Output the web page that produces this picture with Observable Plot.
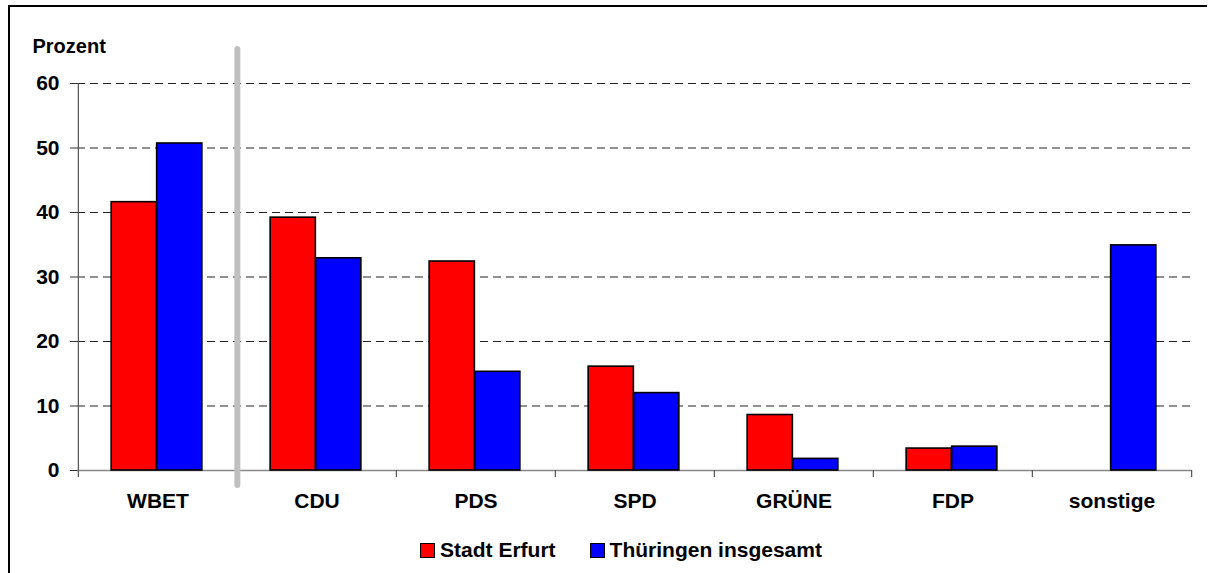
<!DOCTYPE html>
<html>
<head>
<meta charset="utf-8">
<script src="https://cdn.jsdelivr.net/npm/d3@7"></script>
<script src="https://cdn.jsdelivr.net/npm/@observablehq/plot@0.6"></script>
<style>
  html, body { margin: 0; padding: 0; background: #fff; }
  #wrap { position: relative; width: 1210px; height: 573px; overflow: hidden; font-family: "Liberation Sans", Arial, sans-serif; }
  #border { position: absolute; left: 8px; top: 5px; width: 1197px; height: 700px; border-top: 2px solid #000; border-left: 2px solid #000; }
  #chart { position: absolute; left: 0; top: 0; }
  #legend { position: absolute; left: 0; width: 1242px; top: 538px; display: flex; justify-content: center; align-items: center; font-size: 21px; font-weight: bold; color: #000; }
  .item { display: flex; align-items: center; margin: 0 17px; }
  .sw { width: 13px; height: 13px; border: 1px solid #000; margin-right: 5px; }
</style>
</head>
<body>
<div id="wrap">
  <div id="border"></div>
  <div id="chart"></div>
  <div id="legend"></div>
</div>
<script>
const categories = ["WBET", "CDU", "PDS", "SPD", "GRÜNE", "FDP", "sonstige"];
const seriesNames = ["Stadt Erfurt", "Thüringen insgesamt"];
const erfurt = [41.6, 39.2, 32.4, 16.1, 8.6, 3.4, null];
const thueringen = [50.7, 32.9, 15.3, 12.0, 1.8, 3.7, 34.9];
const seriesColors = ["#ff0000", "#0000ff"];
const yTicks = [0, 10, 20, 30, 40, 50, 60];
const yLabel = "Prozent";
const separatorBefore = "CDU";

const W = 1210, H = 530;
const mL = 77, mR = 18, mT = 83, mB = 60;
const bw = (W - mL - mR) / categories.length;
const barW = 45.5;

const rowsE = categories.map((c, i) => ({cat: c, value: erfurt[i]})).filter(d => d.value != null);
const rowsT = categories.map((c, i) => ({cat: c, value: thueringen[i]})).filter(d => d.value != null);

const chart = Plot.plot({
  width: W,
  height: H,
  marginLeft: mL,
  marginRight: mR,
  marginTop: mT,
  marginBottom: mB,
  style: {fontFamily: "'Liberation Sans', Arial, sans-serif", fontSize: "21px", fontWeight: "bold", color: "#000", background: "transparent"},
  x: {type: "band", domain: categories, padding: 0},
  y: {domain: [0, 60]},
  marks: [
    Plot.ruleY(yTicks.filter(v => v > 0), {stroke: "#222", strokeWidth: 1, strokeDasharray: "8,5"}),
    Plot.ruleY([0], {stroke: "#888", strokeWidth: 1.5}),
    Plot.axisY({ticks: yTicks, tickSize: 7, tickPadding: 11, tickFormat: d => String(d), label: null, stroke: "#333"}),
    Plot.axisX({tickSize: 0, tickPadding: 23, label: null}),
    Plot.ruleX([categories[0]], {x: d => d, dx: -bw / 2, insetBottom: -7, stroke: "#555", strokeWidth: 1.2}),
    Plot.ruleX(categories.slice(1), {x: d => d, dx: -bw / 2, y1: 0, y2: 0, insetBottom: -7, stroke: "#555", strokeWidth: 1.2}),
    Plot.ruleX([categories[categories.length - 1]], {x: d => d, dx: bw / 2, y1: 0, y2: 0, insetBottom: -7, stroke: "#555", strokeWidth: 1.2}),
    Plot.ruleX([separatorBefore], {x: d => d, dx: -bw / 2, insetTop: -34, insetBottom: -15, stroke: "#c0c0c0", strokeWidth: 6, strokeLinecap: "round"}),
    Plot.barY(rowsE, {x: "cat", y: "value", fill: seriesColors[0], stroke: "#000", strokeWidth: 1.6,
      insetLeft: bw / 2 - 1 - barW, insetRight: bw / 2 + 1}),
    Plot.barY(rowsT, {x: "cat", y: "value", fill: seriesColors[1], stroke: "#000", strokeWidth: 1.6,
      insetLeft: bw / 2 - 1, insetRight: bw / 2 + 1 - barW}),
    Plot.text([yLabel], {frameAnchor: "top-left", dx: -45, dy: -37, lineAnchor: "middle", textAnchor: "start", fontSize: 20})
  ]
});
document.getElementById("chart").appendChild(chart);

const legend = document.getElementById("legend");
seriesNames.forEach((name, i) => {
  const item = document.createElement("div");
  item.className = "item";
  const sw = document.createElement("div");
  sw.className = "sw";
  sw.style.background = seriesColors[i];
  const t = document.createElement("span");
  t.textContent = name;
  item.appendChild(sw);
  item.appendChild(t);
  legend.appendChild(item);
});
</script>
</body>
</html>
